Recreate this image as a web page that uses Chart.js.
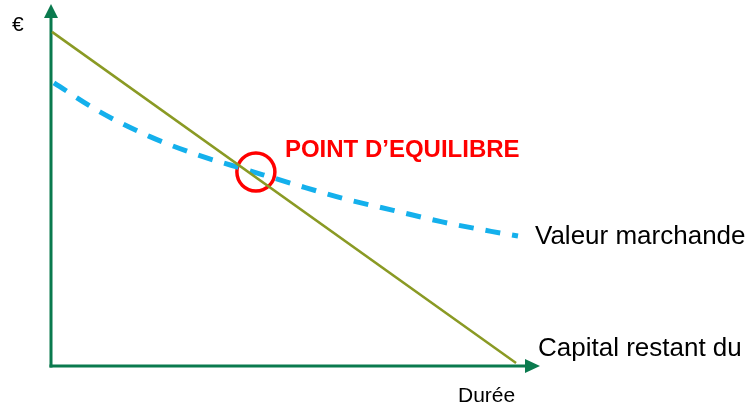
<!DOCTYPE html>
<html>
<head>
<meta charset="utf-8">
<script src="https://cdn.jsdelivr.net/npm/chart.js@4"></script>
<style>
  html, body { margin: 0; padding: 0; background: #ffffff; }
  #wrap { width: 754px; height: 406px; }
</style>
</head>
<body>
<div id="wrap"><canvas id="c" width="754" height="406"></canvas></div>
<script>
// ---- data ----
const dureeValeur = [0.6, 10, 20, 30, 40, 50, 60, 70, 80, 90, 95.5];
const valeurMarchande = [78.2, 70.2, 63.5, 58.3, 54.2, 50.1, 46.2, 43.0, 39.8, 37.2, 35.9];
const dureeCapital = [0.2, 95.1];
const capitalRestant = [92.3, 0.8];
const equilibreX = [41.9];
const equilibreY = [53.6];
const labels = {
  yAxis: "€",
  xAxis: "Durée",
  valeur: "Valeur marchande",
  capital: "Capital restant du",
  equilibre: "POINT D’EQUILIBRE"
};

const AXIS = "#0A7A4E";
const OLIVE = "#8A9A24";
const BLUE = "#14B0EC";
const RED = "#FF0000";
const FONT = "'Liberation Sans', Arial, sans-serif";

const toPts = (xs, ys) => xs.map((x, i) => ({ x: x, y: ys[i] }));

const decor = {
  id: 'decor',
  beforeDatasetsDraw(chart) {
    const ctx = chart.ctx, a = chart.chartArea;
    ctx.save();
    ctx.strokeStyle = AXIS; ctx.fillStyle = AXIS; ctx.lineWidth = 3;
    // vertical axis
    ctx.beginPath(); ctx.moveTo(a.left, a.bottom + 1.5); ctx.lineTo(a.left, a.top + 12); ctx.stroke();
    ctx.beginPath(); ctx.moveTo(a.left, a.top); ctx.lineTo(a.left - 7, a.top + 14); ctx.lineTo(a.left + 7, a.top + 14); ctx.closePath(); ctx.fill();
    // horizontal axis
    ctx.beginPath(); ctx.moveTo(a.left - 1.5, a.bottom); ctx.lineTo(a.right - 12, a.bottom); ctx.stroke();
    ctx.beginPath(); ctx.moveTo(a.right, a.bottom); ctx.lineTo(a.right - 15, a.bottom - 7); ctx.lineTo(a.right - 15, a.bottom + 7); ctx.closePath(); ctx.fill();
    ctx.restore();
  },
  afterDatasetsDraw(chart) {
    const ctx = chart.ctx, a = chart.chartArea;
    ctx.save();
    ctx.textAlign = 'left'; ctx.textBaseline = 'alphabetic';
    ctx.fillStyle = '#000000';
    ctx.font = '21px ' + FONT;
    ctx.fillText(labels.yAxis, 12, 31);
    ctx.font = '21px ' + FONT;
    ctx.fillText(labels.xAxis, 458, 402);
    ctx.font = '26px ' + FONT;
    const vm = chart.getDatasetMeta(1).data;
    const last = vm[vm.length - 1];
    ctx.fillText(labels.valeur, last.x + 17, last.y + 8);
    ctx.fillText(labels.capital, a.right - 2, a.bottom - 10);
    const eq = chart.getDatasetMeta(2).data[0];
    ctx.fillStyle = RED;
    ctx.font = 'bold 24px ' + FONT;
    ctx.fillText(labels.equilibre, eq.x + 29, eq.y - 15);
    ctx.restore();
  }
};

new Chart(document.getElementById('c'), {
  type: 'scatter',
  data: {
    datasets: [
      {
        label: labels.capital,
        data: toPts(dureeCapital, capitalRestant),
        showLine: true, borderColor: OLIVE, borderWidth: 2.5,
        pointRadius: 0, fill: false, clip: false
      },
      {
        label: labels.valeur,
        data: toPts(dureeValeur, valeurMarchande),
        showLine: true, borderColor: BLUE, borderWidth: 5,
        borderDash: [15, 12], borderCapStyle: 'butt',
        cubicInterpolationMode: 'monotone',
        pointRadius: 0, fill: false, clip: false
      },
      {
        label: labels.equilibre,
        data: toPts(equilibreX, equilibreY),
        showLine: false, pointRadius: 19, pointStyle: 'circle',
        pointBorderColor: RED, pointBackgroundColor: 'rgba(0,0,0,0)',
        pointBorderWidth: 3.5, clip: false
      }
    ]
  },
  options: {
    responsive: false,
    animation: false,
    events: [],
    layout: { autoPadding: false, padding: { left: 51, right: 214, top: 4, bottom: 40 } },
    plugins: { legend: { display: false }, tooltip: { enabled: false } },
    scales: {
      x: { type: 'linear', min: 0, max: 100, display: false },
      y: { type: 'linear', min: 0, max: 100, display: false }
    }
  },
  plugins: [decor]
});
</script>
</body>
</html>
